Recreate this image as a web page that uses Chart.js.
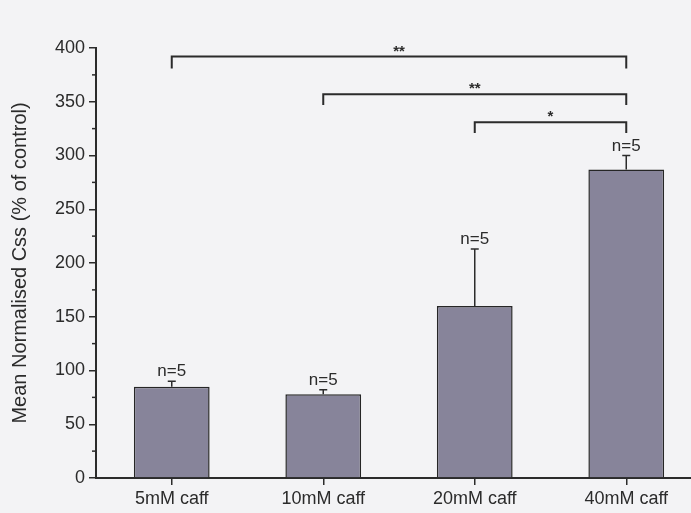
<!DOCTYPE html>
<html>
<head>
<meta charset="utf-8">
<script src="https://cdn.jsdelivr.net/npm/chart.js@4/dist/chart.umd.min.js"></script>
<style>
  html, body { margin: 0; padding: 0; background: #f3f3f5; overflow: hidden; }
  #wrap { width: 702px; height: 513px; }
</style>
</head>
<body>
<div id="wrap"><canvas id="chart"></canvas></div>
<script>
const categories = ["5mM caff", "10mM caff", "20mM caff", "40mM caff"];
const means = [85, 78, 160, 287];
const sem = [5, 4, 53, 13];
const nLabels = ["n=5", "n=5", "n=5", "n=5"];

// significance brackets: from bar -> to bar, height of bar line, drop length, stars
const bracketFrom = [0, 1, 2];
const bracketTo = [3, 3, 3];
const bracketLevel = [392, 357, 331];
const bracketDrop = [11, 10, 10];
const bracketStars = ["**", "**", "*"];

const FONT = "'Liberation Sans', Arial, sans-serif";
const INK = "#2b2b2b";

const extras = {
  id: "extras",
  afterDatasetsDraw(chart) {
    const ctx = chart.ctx;
    const x = chart.scales.x, y = chart.scales.y;
    const bars = chart.getDatasetMeta(0).data;
    ctx.save();
    ctx.strokeStyle = INK;
    ctx.fillStyle = INK;
    ctx.lineWidth = 1.5;

    // error bars (upper only) + n labels
    bars.forEach((bar, i) => {
      const top = y.getPixelForValue(means[i]);
      const cap = y.getPixelForValue(means[i] + sem[i]);
      ctx.beginPath();
      ctx.moveTo(bar.x, top);
      ctx.lineTo(bar.x, cap);
      ctx.moveTo(bar.x - 4, cap);
      ctx.lineTo(bar.x + 4, cap);
      ctx.stroke();
      ctx.font = "17px " + FONT;
      ctx.textAlign = "center";
      ctx.textBaseline = "bottom";
      ctx.fillText(nLabels[i], bar.x, cap - 1);
    });

    // brackets
    ctx.lineWidth = 2;
    bracketFrom.forEach((from, k) => {
      const x1 = x.getPixelForValue(from);
      const x2 = x.getPixelForValue(bracketTo[k]);
      const yl = y.getPixelForValue(bracketLevel[k]);
      const yd = y.getPixelForValue(bracketLevel[k] - bracketDrop[k]);
      ctx.beginPath();
      ctx.moveTo(x1, yd);
      ctx.lineTo(x1, yl);
      ctx.lineTo(x2, yl);
      ctx.lineTo(x2, yd);
      ctx.stroke();
      ctx.font = "bold 15px " + FONT;
      ctx.textAlign = "center";
      ctx.textBaseline = "alphabetic";
      ctx.fillText(bracketStars[k], (x1 + x2) / 2, yl - 1);
    });

    // minor ticks on the y axis
    ctx.lineWidth = 1.5;
    for (let v = 25; v < 400; v += 50) {
      const py = y.getPixelForValue(v);
      ctx.beginPath();
      ctx.moveTo(y.right - 4, py);
      ctx.lineTo(y.right, py);
      ctx.stroke();
    }
    ctx.restore();
  }
};

new Chart(document.getElementById("chart"), {
  type: "bar",
  data: {
    labels: categories,
    datasets: [{
      data: means,
      backgroundColor: "#87849a",
      borderColor: "#262626",
      borderWidth: 1.5,
      categoryPercentage: 1,
      barPercentage: 0.5
    }]
  },
  options: {
    responsive: true,
    maintainAspectRatio: false,
    animation: false,
    layout: { padding: { top: 48, left: 0, right: 0, bottom: 0 } },
    plugins: { legend: { display: false }, tooltip: { enabled: false } },
    scales: {
      x: {
        grid: { offset: false, drawOnChartArea: false, color: INK, tickLength: 7, lineWidth: 1.5 },
        border: { color: INK, width: 2 },
        ticks: { color: INK, font: { family: FONT, size: 18 }, padding: 3 },
        afterFit(scale) { scale.height = 35; }
      },
      y: {
        min: 0,
        max: 400,
        ticks: { stepSize: 50, color: INK, font: { family: FONT, size: 18 }, padding: 4 },
        grid: { drawOnChartArea: false, color: INK, tickLength: 7, lineWidth: 1.5 },
        border: { color: INK, width: 2 },
        title: {
          display: true,
          text: "Mean Normalised Css (% of control)",
          color: INK,
          font: { family: FONT, size: 20 },
          padding: { top: 8, bottom: 0 }
        },
        afterFit(scale) { scale.width = 96; }
      }
    }
  },
  plugins: [extras]
});
</script>
</body>
</html>
